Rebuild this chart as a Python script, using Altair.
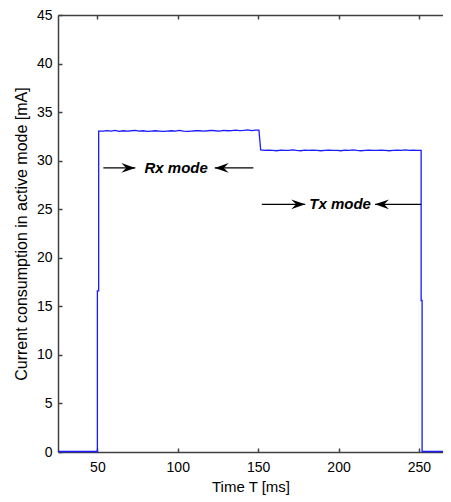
import altair as alt
import pandas as pd

# ---- data ----
base_t = [25.5, 40.0, 50.0, 50.0, 50.8, 50.8]
base_i = [0.05, 0.05, 0.05, 16.6, 16.6, 33.05]

rx_t = [51.0, 53.5, 56.0, 58.5, 61.0, 63.5, 66.0, 68.5, 71.0, 73.5,
        76.0, 78.5, 81.0, 83.5, 86.0, 88.5, 91.0, 93.5, 96.0, 98.5,
        101.0, 103.5, 106.0, 108.5, 111.0, 113.5, 116.0, 118.5, 121.0, 123.5,
        126.0, 128.5, 131.0, 133.5, 136.0, 138.5, 141.0, 143.5, 146.0, 148.5,
        150.5]
rx_i = [33.05, 33.05, 33.1, 33.05, 33.12, 33.02, 33.08, 33.05, 33.08, 33.12,
        33.05, 33.08, 33.02, 33.05, 33.08, 33.05, 33.02, 33.05, 33.08, 33.05,
        33.12, 33.05, 33.02, 33.05, 33.08, 33.08, 33.05, 33.08, 33.12, 33.08,
        33.05, 33.12, 33.08, 33.1, 33.15, 33.1, 33.12, 33.18, 33.1, 33.15,
        33.15]

tx_t = [151.0, 151.6, 154.0, 156.5, 159.0, 161.5, 164.0, 166.5, 169.0, 171.5,
        174.0, 176.5, 179.0, 181.5, 184.0, 186.5, 189.0, 191.5, 194.0, 196.5,
        199.0, 201.5, 204.0, 206.5, 209.0, 211.5, 214.0, 216.5, 219.0, 221.5,
        224.0, 226.5, 229.0, 231.5, 234.0, 236.5, 239.0, 241.5, 244.0, 246.5,
        249.0, 251.4]
tx_i = [32.2, 31.1, 31.05, 31.08, 31.05, 31.02, 31.08, 31.05, 31.05, 31.12,
        31.05, 31.02, 31.08, 31.05, 31.08, 31.05, 31.02, 31.05, 31.08, 31.05,
        31.05, 31.02, 31.08, 31.05, 31.12, 31.05, 31.02, 31.05, 31.08, 31.05,
        31.05, 31.08, 31.05, 31.02, 31.05, 31.08, 31.05, 31.12, 31.05, 31.08,
        31.05, 31.05]

end_t = [251.4, 252.0, 252.0, 265.0]
end_i = [15.6, 15.6, 0.05, 0.05]

x_ticks = [50, 100, 150, 200, 250]
y_ticks = [0, 5, 10, 15, 20, 25, 30, 35, 40, 45]

labels = ["Rx mode", "Tx mode"]
label_t = [99.0, 201.0]
label_i = [29.25, 25.5]

arrow_from = [53.7, 147.0, 152.3, 251.4]
arrow_to = [73.6, 123.0, 179.3, 222.7]
arrow_i = [29.25, 29.25, 25.5, 25.5]
arrow_dir = ["right", "left", "right", "left"]

# ---- tables ----
t_all = base_t + rx_t + tx_t + end_t
i_all = base_i + rx_i + tx_i + end_i
line_df = pd.DataFrame({"t": t_all, "i": i_all, "o": list(range(len(t_all)))})
lab_df = pd.DataFrame({"label": labels, "t": label_t, "i": label_i})
arr_df = pd.DataFrame({"t0": arrow_from, "t1": arrow_to, "i": arrow_i, "dir": arrow_dir})

XD = [25.5, 265]
YD = [0, 45]
xs = alt.Scale(domain=XD, nice=False, zero=False)
ys = alt.Scale(domain=YD, nice=False, zero=False)

AX = "#404040"
FONT = "Liberation Sans, Arial, sans-serif"

line = alt.Chart(line_df).mark_line(color="#1a1aff", strokeWidth=1.3).encode(
    x=alt.X("t:Q", scale=xs, axis=alt.Axis(
        orient="bottom", values=x_ticks, ticks=False, grid=False,
        domainColor=AX, domainWidth=1.5, labelFont=FONT, labelFontSize=14,
        labelColor="black", labelPadding=8, title="Time T [ms]",
        titleFont=FONT, titleFontSize=15, titleFontWeight="normal",
        titleColor="black", titlePadding=5)),
    y=alt.Y("i:Q", scale=ys, axis=alt.Axis(
        orient="left", values=y_ticks, ticks=False, grid=False,
        domainColor=AX, domainWidth=1.5, labelFont=FONT, labelFontSize=14,
        labelColor="black", labelPadding=6,
        title="Current consumption in active mode [mA]",
        titleFont=FONT, titleFontSize=16,
        titleFontWeight="normal", titleColor="black", titlePadding=7)),
    order="o:Q",
)

# inward tick marks (bottom / left)
ticks_bl = alt.Chart(line_df).mark_line(opacity=0).encode(
    x=alt.X("t:Q", scale=xs, axis=alt.Axis(
        orient="bottom", values=x_ticks, offset=-4, tickSize=4, tickColor=AX,
        tickWidth=1.5, domain=False, labels=False, grid=False, title="")),
    y=alt.Y("i:Q", scale=ys, axis=alt.Axis(
        orient="left", values=y_ticks, offset=-4, tickSize=4, tickColor=AX,
        tickWidth=1.5, domain=False, labels=False, grid=False, title="")),
    order="o:Q",
)

# top border line
top_line = alt.Chart(line_df).mark_line(opacity=0).encode(
    x=alt.X("t:Q", scale=xs, axis=alt.Axis(
        orient="top", values=x_ticks, ticks=False, domain=True, domainColor=AX,
        domainWidth=1.5, labels=False, grid=False, title="")),
    y=alt.Y("i:Q", scale=ys, axis=None),
    order="o:Q",
)

# top inward ticks
top_ticks = alt.Chart(line_df).mark_line(opacity=0).encode(
    x=alt.X("t:Q", scale=xs, axis=alt.Axis(
        orient="top", values=x_ticks, offset=-4, tickSize=4, tickColor=AX,
        tickWidth=1.5, domain=False, labels=False, grid=False, title="")),
    y=alt.Y("i:Q", scale=ys, axis=None),
    order="o:Q",
)

shafts = alt.Chart(arr_df).mark_rule(color="black", strokeWidth=1.2).encode(
    x=alt.X("t0:Q", scale=xs, axis=None),
    x2="t1:Q",
    y=alt.Y("i:Q", scale=ys, axis=None),
)

head_r = alt.Chart(arr_df).transform_filter(alt.datum.dir == "right").mark_point(
    shape="M0,0 L-2,-0.7 L-1.3,0 L-2,0.7 Z", size=196, filled=True,
    color="black", opacity=1, strokeWidth=0).encode(
    x=alt.X("t1:Q", scale=xs, axis=None),
    y=alt.Y("i:Q", scale=ys, axis=None),
)

head_l = alt.Chart(arr_df).transform_filter(alt.datum.dir == "left").mark_point(
    shape="M0,0 L2,-0.7 L1.3,0 L2,0.7 Z", size=196, filled=True,
    color="black", opacity=1, strokeWidth=0).encode(
    x=alt.X("t1:Q", scale=xs, axis=None),
    y=alt.Y("i:Q", scale=ys, axis=None),
)

texts = alt.Chart(lab_df).mark_text(
    font=FONT, fontSize=15, fontWeight="bold", fontStyle="italic",
    color="black", align="center", baseline="middle").encode(
    x=alt.X("t:Q", scale=xs, axis=None),
    y=alt.Y("i:Q", scale=ys, axis=None),
    text="label:N",
)

chart = alt.layer(
    line, ticks_bl, top_line, top_ticks, shafts, head_r, head_l, texts
).resolve_axis(x="independent", y="independent").properties(
    width=385, height=437,
    autosize=alt.AutoSizeParams(type="none"),
    padding={"left": 50, "top": 7, "right": 0, "bottom": 44},
).configure_view(stroke=None).configure(background="white")

chart.save("out.html", embed_options={"renderer": "svg", "actions": False})
